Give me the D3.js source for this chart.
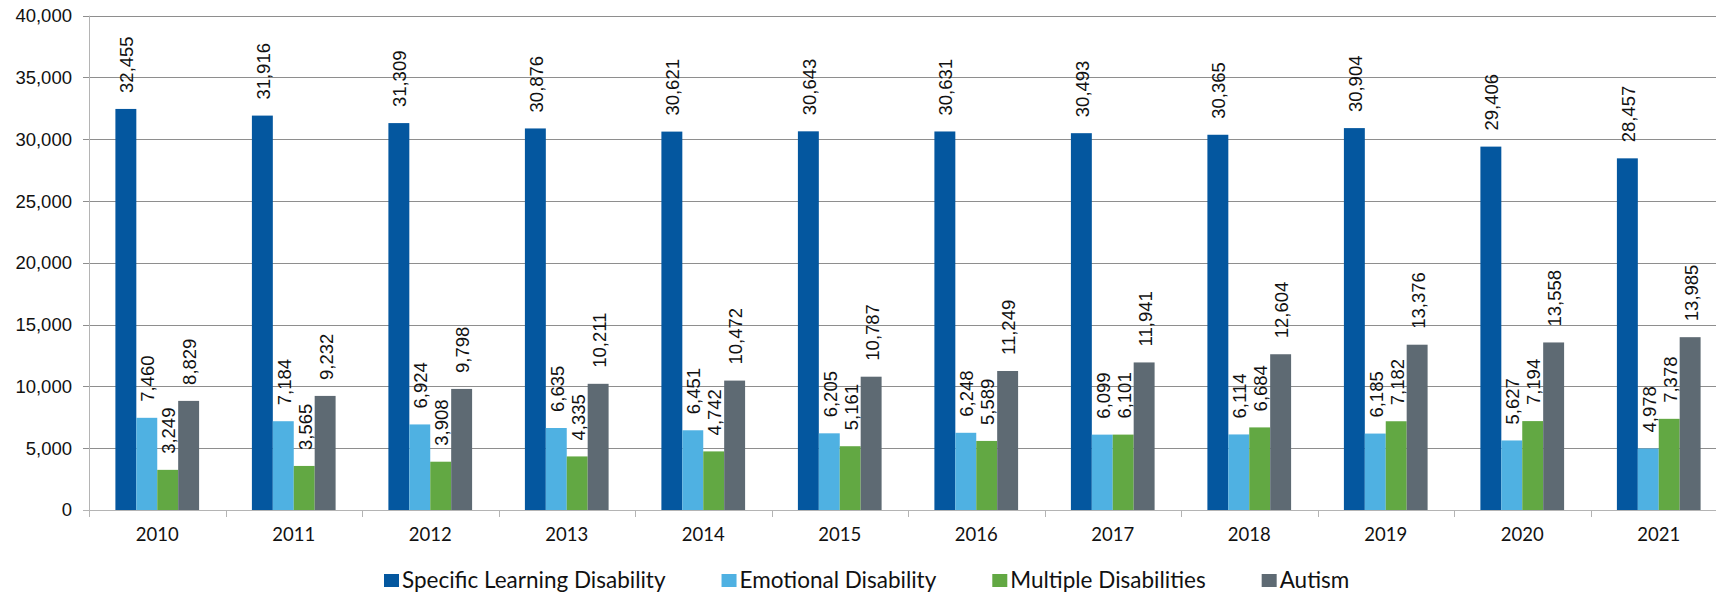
<!DOCTYPE html>
<html>
<head>
<meta charset="utf-8">
<script src="https://cdn.jsdelivr.net/npm/d3@7"></script>
<style>
	body { margin: 0; background: #fff; }
	svg { display: block; }
</style>
</head>
<body>
<div id="chart"></div>
<script>
// data
const years = ['2010', '2011', '2012', '2013', '2014', '2015', '2016', '2017', '2018', '2019', '2020', '2021'];
const seriesNames = ['Specific Learning Disability', 'Emotional Disability', 'Multiple Disabilities', 'Autism'];
const learning = [32455, 31916, 31309, 30876, 30621, 30643, 30631, 30493, 30365, 30904, 29406, 28457];
const emotional = [7460, 7184, 6924, 6635, 6451, 6205, 6248, 6099, 6114, 6185, 5627, 4978];
const multiple = [3249, 3565, 3908, 4335, 4742, 5161, 5589, 6101, 6684, 7182, 7194, 7378];
const autism = [8829, 9232, 9798, 10211, 10472, 10787, 11249, 11941, 12604, 13376, 13558, 13985];
const yTicks = [0, 5000, 10000, 15000, 20000, 25000, 30000, 35000, 40000];
const colors = ['#04579f', '#4fb1e2', '#62a843', '#5e6a73'];

const values = [learning, emotional, multiple, autism];

const W = 1716, H = 592;
// plot area (right edge runs past the picture, as in the reference)
const plotLeft = 89, plotRight = 1727, plotTop = 15.7, plotBottom = 510;

const svg = d3.select('#chart')
	.append('svg')
	.attr('width', W)
	.attr('height', H);

const x0 = d3.scaleBand().domain(years).range([plotLeft, plotRight]);
const x1 = d3.scaleBand().domain(d3.range(seriesNames.length)).range([26.4, x0.bandwidth() - 26.4]);
const y = d3.scaleLinear().domain([0, 40000]).range([plotBottom, plotTop]);

// gridlines
svg.append('g')
	.selectAll('line')
	.data(yTicks)
	.join('line')
	.attr('x1', plotLeft - 6)
	.attr('x2', W)
	.attr('y1', (d) => Math.round(y(d)) + 0.5)
	.attr('y2', (d) => Math.round(y(d)) + 0.5)
	.attr('stroke', (d) => (d === 0 ? '#b4b4b4' : '#8e8e8e'))
	.attr('stroke-width', 1);

// y axis line
svg.append('line')
	.attr('x1', plotLeft + 0.5).attr('x2', plotLeft + 0.5)
	.attr('y1', y(40000)).attr('y2', plotBottom + 7)
	.attr('stroke', '#b4b4b4');

// y tick labels
svg.append('g')
	.selectAll('text')
	.data(yTicks)
	.join('text')
	.attr('x', plotLeft - 17)
	.attr('y', (d) => y(d))
	.attr('dy', '0.35em')
	.attr('text-anchor', 'end')
	.style('font-family', '"Liberation Sans", Arial, sans-serif')
	.style('font-size', '18.5px')
	.attr('fill', '#111')
	.text(d3.format(','));

// x ticks between categories
svg.append('g')
	.selectAll('line')
	.data(years.slice(1))
	.join('line')
	.attr('x1', (d) => Math.round(x0(d)) + 0.5)
	.attr('x2', (d) => Math.round(x0(d)) + 0.5)
	.attr('y1', plotBottom)
	.attr('y2', plotBottom + 7)
	.attr('stroke', '#b4b4b4');

// x labels
svg.append('g')
	.selectAll('text')
	.data(years)
	.join('text')
	.attr('x', (d) => x0(d) + x0.bandwidth() / 2)
	.attr('y', 541)
	.attr('text-anchor', 'middle')
	.style('font-family', 'Lato, sans-serif')
	.style('font-size', '18.5px')
	.attr('fill', '#111')
	.text((d) => d);

// bars and value labels
const groups = svg.append('g')
	.selectAll('g')
	.data(years)
	.join('g')
	.attr('transform', (d) => `translate(${x0(d)},0)`);

const cells = groups.selectAll('g')
	.data((d, i) => values.map((s, k) => ({ k: k, v: s[i] })))
	.join('g');

cells.append('rect')
	.attr('x', (d) => x1(d.k))
	.attr('width', x1.bandwidth())
	.attr('y', (d) => y(d.v))
	.attr('height', (d) => plotBottom - y(d.v))
	.attr('fill', (d) => colors[d.k]);

cells.append('text')
	.attr('transform', (d) => `translate(${x1(d.k) + x1.bandwidth() / 2 + 1},${y(d.v) - 16}) rotate(-90)`)
	.attr('dy', '0.35em')
	.style('font-family', '"Liberation Sans", Arial, sans-serif')
	.style('font-size', '18.5px')
	.attr('fill', '#111')
	.text((d) => d3.format(',')(d.v));

// legend
const legend = svg.append('g');
let lx = 384;
seriesNames.forEach((name, k) => {
	legend.append('rect')
		.attr('x', lx)
		.attr('y', 574)
		.attr('width', 15)
		.attr('height', 13)
		.attr('fill', colors[k]);
	const t = legend.append('text')
		.attr('x', lx + 18)
		.attr('y', 588)
		.style('font-family', 'Lato, sans-serif')
		.style('font-size', '22.5px')
		.attr('fill', '#111')
		.text(name);
	lx += 18 + t.node().getComputedTextLength() + 56;
});
</script>
</body>
</html>
